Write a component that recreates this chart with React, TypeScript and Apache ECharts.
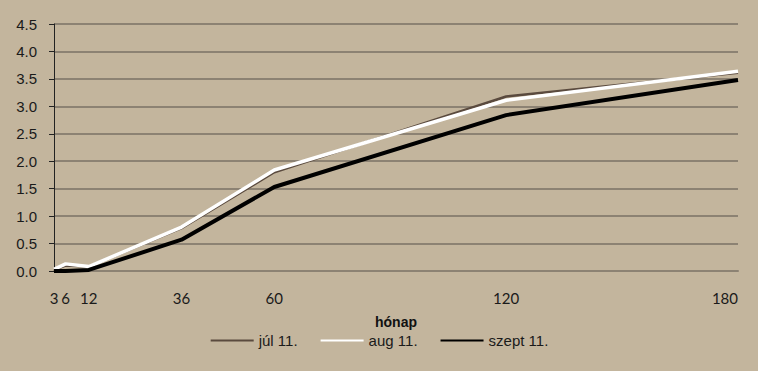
import React, { useEffect, useRef } from "react";
import * as echarts from "echarts";

const months = [3, 6, 12, 36, 60, 120, 180];
const xTickLabels = [3, 6, 12, 36, 60, 120, 180];
const yTicks = [0, 0.5, 1, 1.5, 2, 2.5, 3, 3.5, 4, 4.5];
const seriesNames = ["júl 11.", "aug 11.", "szept 11."];
const julValues = [0.02, 0.1, 0.08, 0.78, 1.8, 3.18, 3.61];
const augValues = [0.03, 0.13, 0.08, 0.8, 1.84, 3.11, 3.64];
const szeptValues = [0.0, 0.0, 0.02, 0.57, 1.53, 2.84, 3.48];

export default function App() {
  const ref = useRef<HTMLDivElement>(null);
  useEffect(() => {
    if (!ref.current) return;
    const chart = echarts.init(ref.current, null, { renderer: "svg" });
    const pair = (vals: number[]) => months.map((m, i) => [m, vals[i]]);
    chart.setOption({
      animation: false,
      backgroundColor: "#C3B59D",
      grid: { left: 54, right: 20, top: 24, bottom: 100 },
      legend: {
        bottom: 18,
        left: "center",
        itemWidth: 43,
        itemHeight: 10,
        itemGap: 22,
        itemStyle: { opacity: 0 },
        textStyle: { fontFamily: "Liberation Sans", fontSize: 15, color: "#1a1a1a" },
        data: seriesNames,
      },
      xAxis: {
        type: "value",
        min: 3,
        max: 180,
        name: "hónap",
        nameLocation: "middle",
        nameGap: 44,
        nameTextStyle: { fontFamily: "Liberation Sans", fontSize: 14, fontWeight: "bold", color: "#111" },
        axisLine: { show: true, lineStyle: { color: "#8C8273", width: 2 } },
        axisTick: { show: false },
        splitLine: { show: false },
        axisLabel: {
          customValues: xTickLabels,
          margin: 19,
          fontFamily: "Lato",
          fontSize: 15,
          color: "#1a1a1a",
          alignMaxLabel: "right",
        },
      },
      yAxis: {
        type: "value",
        min: 0,
        max: 4.5,
        interval: 0.5,
        axisLine: { show: true, lineStyle: { color: "#222", width: 1 } },
        axisTick: { show: true, inside: false, length: 5, lineStyle: { color: "#222" } },
        splitLine: { show: true, lineStyle: { color: "#8C8273", width: 2 } },
        axisLabel: {
          margin: 17,
          fontFamily: "Liberation Sans",
          fontSize: 15,
          color: "#1a1a1a",
          formatter: (v: number) => (yTicks.includes(v) ? v.toFixed(1) : ""),
        },
      },
      series: [
        {
          name: seriesNames[0],
          type: "line",
          data: pair(julValues),
          symbol: "none",
          lineStyle: { color: "#5A4A3E", width: 2.5 },
          itemStyle: { color: "#5A4A3E" },
        },
        {
          name: seriesNames[1],
          type: "line",
          data: pair(augValues),
          symbol: "none",
          lineStyle: { color: "#FFFFFF", width: 3.5 },
          itemStyle: { color: "#FFFFFF" },
        },
        {
          name: seriesNames[2],
          type: "line",
          data: pair(szeptValues),
          symbol: "none",
          lineStyle: { color: "#000000", width: 4 },
          itemStyle: { color: "#000000" },
        },
      ],
    });
    return () => chart.dispose();
  }, []);
  return <div ref={ref} style={{ width: 758, height: 371, position: "absolute", left: 0, top: 0 }} />;
}
